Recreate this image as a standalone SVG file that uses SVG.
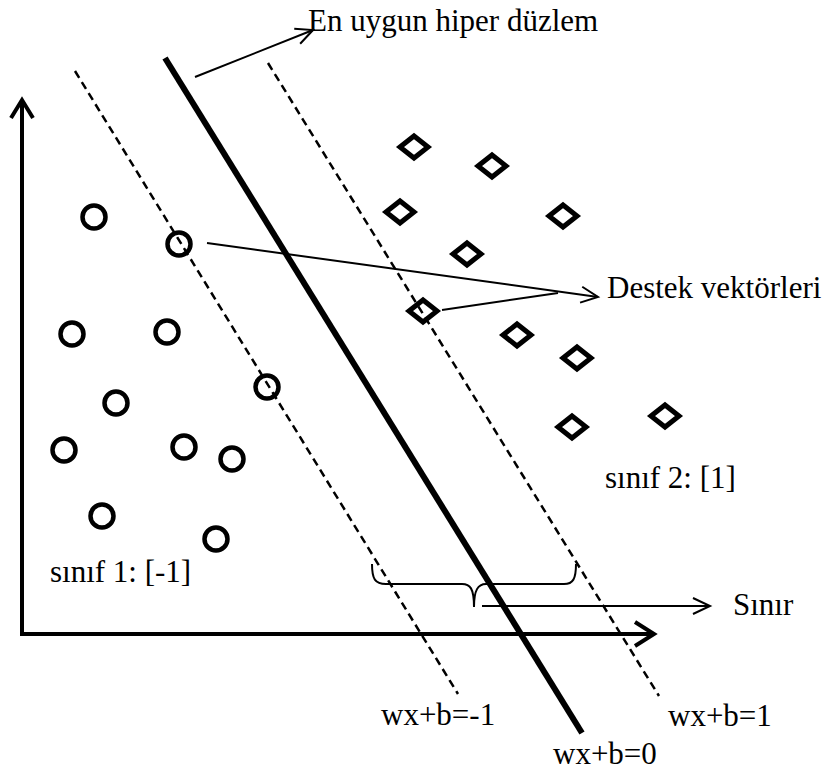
<svg xmlns="http://www.w3.org/2000/svg" width="834" height="774" viewBox="0 0 834 774">
<style>
.lbl{font-family:"Liberation Serif","Times New Roman",serif;font-size:31px;fill:#000}
.c{fill:none;stroke:#000;stroke-width:4.5}
.d{fill:none;stroke:#000;stroke-width:5;stroke-linejoin:miter}
.thin{fill:none;stroke:#000;stroke-width:2}
.axis{fill:none;stroke:#000;stroke-width:4}
.dash{fill:none;stroke:#000;stroke-width:2.5;stroke-dasharray:8 5}
</style>
<defs>
<marker id="open" markerUnits="userSpaceOnUse" markerWidth="24" markerHeight="24" viewBox="-20 -12 24 24" refX="0" refY="0" orient="auto">
<path d="M-17,-8 L0,0 L-17,8" fill="none" stroke="#000" stroke-width="2"/>
</marker>
</defs>
<rect width="834" height="774" fill="#fff"/>

<g id="axes">
<polyline class="axis" points="22,634 22,101"/>
<polyline class="axis" points="11,118 22,100 33,118"/>
<polyline class="axis" points="20,634 653,634"/>
<polyline class="axis" points="635,622 654,634 635,646"/>
</g>

<g id="hyperplanes">
<line id="margin-neg" class="dash" x1="75" y1="71" x2="458" y2="694"/>
<line id="optimal" x1="165" y1="58" x2="582" y2="733" stroke="#000" stroke-width="6"/>
<line id="margin-pos" class="dash" x1="268" y1="63" x2="659" y2="696"/>
</g>

<g id="class1">
<circle class="c" cx="94" cy="217" r="11.5"/>
<circle class="c" cx="179" cy="244" r="11.5"/>
<circle class="c" cx="72" cy="334" r="11.5"/>
<circle class="c" cx="167" cy="332" r="11.5"/>
<circle class="c" cx="116" cy="403" r="11.5"/>
<circle class="c" cx="267" cy="387" r="11.5"/>
<circle class="c" cx="64" cy="450" r="11.5"/>
<circle class="c" cx="184" cy="447" r="11.5"/>
<circle class="c" cx="232" cy="459" r="11.5"/>
<circle class="c" cx="102" cy="516" r="11.5"/>
<circle class="c" cx="216" cy="539" r="11.5"/>
</g>

<g id="class2">
<polygon class="d" points="400,147 414,136 428,147 414,158"/>
<polygon class="d" points="478,166 492,155 506,166 492,177"/>
<polygon class="d" points="386,212 400,201 414,212 400,223"/>
<polygon class="d" points="549,216 563,205 577,216 563,227"/>
<polygon class="d" points="453,254 467,243 481,254 467,265"/>
<polygon class="d" points="409,311 423,300 437,311 423,322"/>
<polygon class="d" points="503,335 517,324 531,335 517,346"/>
<polygon class="d" points="563,358 577,347 591,358 577,369"/>
<polygon class="d" points="558,427 572,416 586,427 572,438"/>
<polygon class="d" points="651,416 665,405 679,416 665,427"/>
</g>

<g id="connectors">
<line class="thin" x1="195" y1="77" x2="313" y2="30" marker-end="url(#open)"/>
<line class="thin" x1="207" y1="243" x2="598" y2="297" marker-end="url(#open)"/>
<line class="thin" x1="442" y1="310" x2="558" y2="293"/>
<path class="thin" d="M372,564 C372,579 375,584 386,584 L462,584 C470,584 474,588 474,607 C474,590 478,584 486,584 L564,584 C573,584 576,579 576,564"/>
<line class="thin" x1="482" y1="606" x2="710" y2="606" marker-end="url(#open)"/>
</g>

<g id="labels">
<text class="lbl" x="308" y="31">En uygun hiper düzlem</text>
<text class="lbl" x="607" y="298">Destek vektörleri</text>
<text class="lbl" x="605" y="488">sınıf 2: [1]</text>
<text class="lbl" x="50" y="582">sınıf 1: [-1]</text>
<text class="lbl" x="733" y="615">Sınır</text>
<text class="lbl" x="381" y="725">wx+b=-1</text>
<text class="lbl" x="668" y="726">wx+b=1</text>
<text class="lbl" x="553" y="764">wx+b=0</text>
</g>
</svg>
